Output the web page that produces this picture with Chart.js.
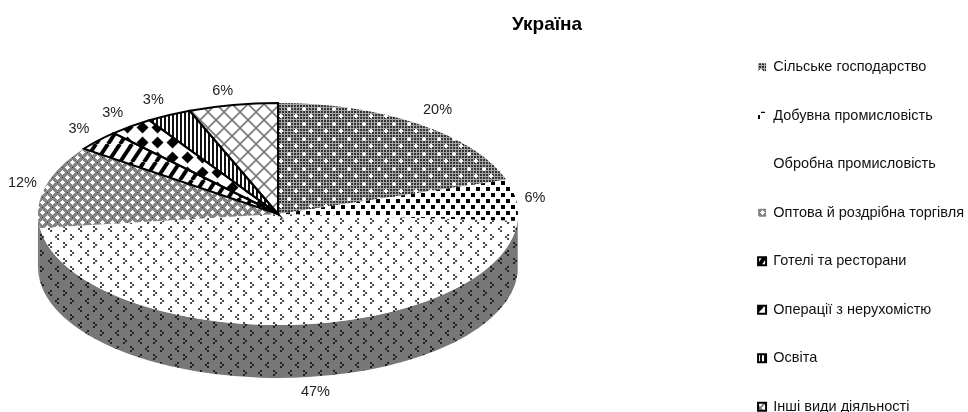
<!DOCTYPE html>
<html lang="uk">
<head>
<meta charset="utf-8">
<title>Україна</title>
<script src="https://cdn.jsdelivr.net/npm/chart.js@4"></script>
<style>
  html, body { margin: 0; width: 968px; height: 412px; overflow: hidden; background: #fff; }
  canvas { display: block; }
</style>
</head>
<body>
<canvas id="pieChart" width="974" height="474"></canvas>
<script>
const chartTitle = "Україна";
const categories = [
  "Сільське господарство",
  "Добувна промисловість",
  "Обробна промисловість",
  "Оптова й роздрібна торгівля",
  "Готелі та ресторани",
  "Операції з нерухомістю",
  "Освіта",
  "Інші види діяльності"
];
const shares = [20, 6, 47, 12, 3, 3, 3, 6];
const outlined = [false, false, false, false, true, true, true, true];
const labelShiftX = [2, -9, 29, 4, 2, -1, -3, -5];
const labelShiftY = [0, 0, 50, 1, 0, 0, 0, 3];

// flattened pie, the chart's round pie gets squeezed onto this ellipse
const pieX = 278;
const pieY = 214;
const pieRx = 240;
const pieRy = 111;
const pieDepth = 53;
const labelRx = 268;
const labelRy = 128;
const fontFamily = "'Liberation Sans', Arial, sans-serif";

const canvas = document.getElementById("pieChart");
const ctx = canvas.getContext("2d");

function tile(w, h, paint) {
  const c = document.createElement("canvas");
  c.width = w;
  c.height = h;
  paint(c.getContext("2d"), w, h);
  return ctx.createPattern(c, "repeat");
}

function dots(g, points, size) {
  points.forEach(p => g.fillRect(p[0], p[1], size, size));
}

function paintChecker(g, w, h) {
  g.fillStyle = "#a8a8a8";
  g.fillRect(0, 0, w, h);
  g.fillStyle = "#333";
  for (let y = 0; y < h; y += 3) {
    for (let x = 0; x < w; x += 3) g.fillRect(x, y, 2, 2);
  }
  g.fillStyle = "#fff";
  [[3, 3], [10, 10]].forEach(p => {
    g.fillRect(p[0] - 1, p[1], 4, 2);
    g.fillRect(p[0], p[1] - 1, 2, 4);
  });
}

function paintSquares(g, w, h) {
  g.fillStyle = "#fff";
  g.fillRect(0, 0, w, h);
  g.fillStyle = "#000";
  dots(g, [[1, 1], [6, 7]], 4);
}

function paintChevrons(background, ink) {
  return (g, w, h) => {
    g.fillStyle = background;
    g.fillRect(0, 0, w, h);
    g.fillStyle = ink;
    // > < on one row, shifted the other way on the next
    dots(g, [[3, 2], [5, 4], [3, 6]], 2);
    dots(g, [[20, 2], [18, 4], [20, 6]], 2);
    dots(g, [[10, 10], [12, 12], [10, 14]], 2);
    dots(g, [[27, 10], [25, 12], [27, 14]], 2);
  };
}

function paintLattice(g, w, h) {
  g.fillStyle = "#858585";
  g.fillRect(0, 0, w, h);
  g.fillStyle = "#fff";
  [[2, 2], [7, 7]].forEach(p => {
    g.fillRect(p[0] - 2, p[1], 5, 1);
    g.fillRect(p[0], p[1] - 2, 1, 5);
    g.fillRect(p[0] - 1, p[1] - 1, 3, 3);
  });
  g.fillStyle = "#2c2c2c";
  dots(g, [[7, 2], [2, 7]], 1);
}

function paintStripes(g, w, h) {
  g.fillStyle = "#fff";
  g.fillRect(0, 0, w, h);
  g.strokeStyle = "#000";
  g.lineWidth = 4;
  [-w, 0, w].forEach(s => {
    g.beginPath();
    g.moveTo(s, h);
    g.lineTo(s + w, 0);
    g.stroke();
  });
}

function paintDiamonds(g, w, h) {
  g.fillStyle = "#fff";
  g.fillRect(0, 0, w, h);
  g.fillStyle = "#000";
  g.beginPath();
  g.moveTo(w / 2, h / 2 - 6);
  g.lineTo(w / 2 + 6, h / 2);
  g.lineTo(w / 2, h / 2 + 6);
  g.lineTo(w / 2 - 6, h / 2);
  g.fill();
}

function paintBars(g, w, h) {
  g.fillStyle = "#fff";
  g.fillRect(0, 0, w, h);
  g.fillStyle = "#111";
  g.fillRect(0, 0, 2, h);
}

function paintCross(g, w, h) {
  g.fillStyle = "#fff";
  g.fillRect(0, 0, w, h);
  g.strokeStyle = "#777";
  g.lineWidth = 1.6;
  [[0, 0, w, h], [0, h, w, 0]].forEach(l => {
    g.beginPath();
    g.moveTo(l[0], l[1]);
    g.lineTo(l[2], l[3]);
    g.stroke();
  });
}

function makeFills() {
  return [
    tile(15, 15, paintChecker),
    tile(10, 12, paintSquares),
    tile(30, 16, paintChevrons("#fff", "#444")),
    tile(10, 10, paintLattice),
    tile(12, 18, paintStripes),
    tile(15, 15, paintDiamonds),
    tile(4, 1, paintBars),
    tile(16, 16, paintCross)
  ];
}

const sliceFills = makeFills();
const swatchFills = makeFills();
const wallFill = tile(30, 16, paintChevrons("#777", "#222"));

function arcAngles(arc) {
  return arc.getProps(["startAngle", "endAngle"], true);
}

const flatPie = {
  id: "flatPie",
  beforeDatasetsDraw(chart) {
    const g = chart.ctx;
    const arcs = chart.getDatasetMeta(0).data;

    // side wall, only the part of each slice that faces the viewer
    arcs.forEach(arc => {
      const { startAngle, endAngle } = arcAngles(arc);
      const from = Math.max(startAngle, 0);
      const to = Math.min(endAngle, Math.PI);
      if (to <= from) return;
      g.beginPath();
      g.ellipse(pieX, pieY, pieRx, pieRy, 0, from, to);
      g.ellipse(pieX, pieY + pieDepth, pieRx, pieRy, 0, to, from, true);
      g.closePath();
      g.fillStyle = wallFill;
      g.fill();
    });

    const first = arcs[0];
    const { x, y, outerRadius } = first.getProps(["x", "y", "outerRadius"], true);
    g.save();
    g.translate(pieX, pieY);
    g.scale(pieRx / outerRadius, pieRy / outerRadius);
    g.translate(-x, -y);
    // keep the fill patterns at screen size under the squeeze
    const inverse = g.getTransform().inverse();
    sliceFills.forEach(fill => fill.setTransform(inverse));
  },
  afterDatasetsDraw(chart) {
    const g = chart.ctx;
    g.restore();
    const arcs = chart.getDatasetMeta(0).data;

    g.strokeStyle = "#000";
    g.lineWidth = 2;
    g.lineJoin = "miter";
    arcs.forEach((arc, i) => {
      if (!outlined[i]) return;
      const { startAngle, endAngle } = arcAngles(arc);
      g.beginPath();
      g.moveTo(pieX, pieY);
      g.ellipse(pieX, pieY, pieRx, pieRy, 0, startAngle, endAngle);
      g.closePath();
      g.stroke();
    });

    g.fillStyle = "#222";
    g.font = `14.5px ${fontFamily}`;
    g.textAlign = "center";
    g.textBaseline = "middle";
    arcs.forEach((arc, i) => {
      const { startAngle, endAngle } = arcAngles(arc);
      const mid = (startAngle + endAngle) / 2;
      const lx = pieX + labelRx * Math.cos(mid) + labelShiftX[i];
      const ly = pieY + labelRy * Math.sin(mid) + labelShiftY[i];
      g.fillText(`${shares[i]}%`, lx, ly);
    });
  }
};

new Chart(canvas, {
  type: "pie",
  data: {
    labels: categories,
    datasets: [
      {
        data: shares,
        backgroundColor: sliceFills,
        borderWidth: 0,
        clip: false
      }
    ]
  },
  options: {
    responsive: false,
    animation: false,
    layout: {
      padding: { left: 370 }
    },
    plugins: {
      title: {
        display: true,
        text: chartTitle,
        fullSize: false,
        color: "#000",
        font: { family: fontFamily, size: 19, weight: "bold" },
        padding: { top: 13, bottom: 10 }
      },
      legend: {
        position: "right",
        align: "center",
        labels: {
          color: "#111",
          font: { family: fontFamily, size: 14.5 },
          boxWidth: 8,
          boxHeight: 8,
          padding: 34,
          generateLabels: () => categories.map((text, i) => ({
            text,
            index: i,
            fontColor: "#111",
            fillStyle: swatchFills[i],
            strokeStyle: outlined[i] ? "#000" : "rgba(0,0,0,0)",
            lineWidth: outlined[i] ? 2 : 0
          }))
        }
      },
      tooltip: { enabled: false }
    }
  },
  plugins: [flatPie]
});
</script>
</body>
</html>
